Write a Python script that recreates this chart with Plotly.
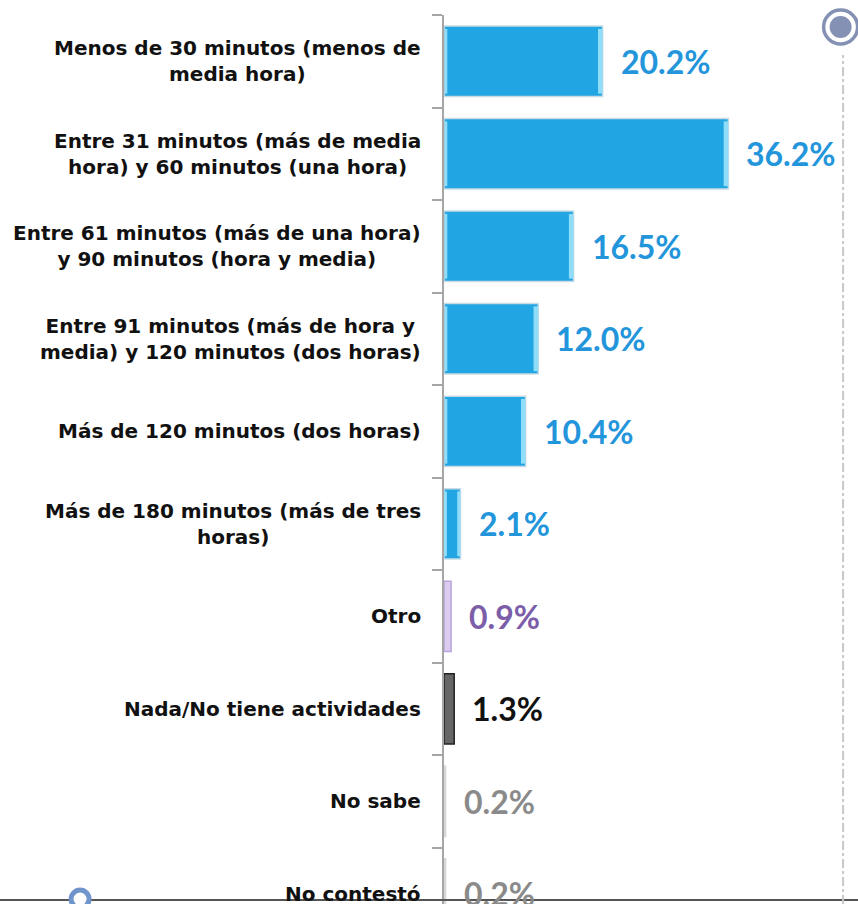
import plotly.graph_objects as go

categories = [
    "Menos de 30 minutos (menos de<br>media hora)",
    "Entre 31 minutos (más de media<br>hora) y 60 minutos (una hora)",
    "Entre 61 minutos (más de una hora)<br>y 90 minutos (hora y media)",
    "Entre 91 minutos (más de hora y<br>media) y 120 minutos (dos horas)",
    "Más de 120 minutos (dos horas)",
    "Más de 180 minutos (más de tres<br>horas)",
    "Otro",
    "Nada/No tiene actividades",
    "No sabe",
    "No contestó",
]
values = [20.2, 36.2, 16.5, 12.0, 10.4, 2.1, 0.9, 1.3, 0.2, 0.2]
bar_colors = ["#22A6E3"] * 6 + ["#DCCDF0", "#666666", "#F4F4F4", "#F4F4F4"]
line_colors = ["#C9DCE6"] * 6 + ["#B9A3DA", "#222222", "#D6D6D6", "#D6D6D6"]
label_colors = ["#2395DB"] * 6 + ["#7B5DA8", "#111111", "#8A8A8A", "#8A8A8A"]
labels = [f"{v:.1f}%" for v in values]

n_blue = 6
fig = go.Figure()
fig.add_trace(go.Bar(
    y=categories, x=values, orientation="h",
    marker=dict(color=bar_colors, line=dict(color=line_colors, width=1.5)),
    width=0.76, hoverinfo="skip", showlegend=False,
))
# bevel highlights on the blue bars (right and left edges)
blue_cats = categories[:n_blue]
blue_vals = values[:n_blue]
edge_r = [min(0.6, v * 0.2) for v in blue_vals]
fig.add_trace(go.Bar(
    y=blue_cats, x=edge_r, base=[v - e for v, e in zip(blue_vals, edge_r)], orientation="h",
    marker=dict(color="#8FDDF8", line=dict(width=0)), width=0.70,
    hoverinfo="skip", showlegend=False,
))
edge_l = [min(0.3, v * 0.12) for v in blue_vals]
fig.add_trace(go.Bar(
    y=blue_cats, x=edge_l, base=[0.12] * n_blue, orientation="h",
    marker=dict(color="#8FDDF8", line=dict(width=0)), width=0.70,
    hoverinfo="skip", showlegend=False,
))

for cat, v, t, c in zip(categories, values, labels, label_colors):
    fig.add_annotation(x=v, y=cat, xref="x", yref="y", text=f"<b>{t}</b>",
                       showarrow=False, xanchor="left", xshift=16,
                       font=dict(family="Lato", size=32, color=c))
    fig.add_annotation(x=0, y=cat, xref="paper", yref="y", text=f"<b>{cat}</b>",
                       showarrow=False, xanchor="right", xshift=-21, align="center",
                       font=dict(family="DejaVu Sans", size=20, color="#111111"))

# decorations (paper coords relative to plot area: x 444..858, y 15..904)
fig.add_shape(type="line", xref="paper", yref="paper", x0=-1.2, x1=1.2, y0=0.0045, y1=0.0045,
              line=dict(color="#555555", width=2))
fig.add_shape(type="line", xref="paper", yref="paper", x0=0.964, x1=0.964, y0=0, y1=0.955,
              line=dict(color="#C8C8C8", width=2, dash="dashdot"))
fig.add_shape(type="circle", xref="paper", yref="paper", xsizemode="pixel", ysizemode="pixel",
              xanchor=0.958, yanchor=0.9865, x0=-17, x1=17, y0=-17, y1=17,
              line=dict(color="#8491B4", width=3.5), fillcolor="white")
fig.add_shape(type="circle", xref="paper", yref="paper", xsizemode="pixel", ysizemode="pixel",
              xanchor=0.958, yanchor=0.9865, x0=-11, x1=11, y0=-11, y1=11,
              line=dict(width=0), fillcolor="#8491B4")
fig.add_shape(type="circle", xref="paper", yref="paper", xsizemode="pixel", ysizemode="pixel",
              xanchor=-0.879, yanchor=0.0056, x0=-9, x1=9, y0=-9, y1=9,
              line=dict(color="#7094CC", width=5), fillcolor="white")

fig.update_layout(
    width=858, height=904,
    margin=dict(l=444, r=0, t=15, b=0),
    plot_bgcolor="white", paper_bgcolor="white",
    barmode="overlay",
    xaxis=dict(range=[0, 52.7], visible=False, fixedrange=True),
    yaxis=dict(type="category", categoryorder="array", categoryarray=categories,
               range=[9.11, -0.5], showticklabels=False,
               ticks="outside", tickson="boundaries", ticklen=10, tickcolor="#A6A6A6",
               tickwidth=2, showline=True, linecolor="#A6A6A6", linewidth=2,
               showgrid=False, zeroline=False),
)

fig.write_html("out.html", config={"displayModeBar": False},
               post_script="document.body.style.margin='0';document.body.style.overflow='hidden';")
